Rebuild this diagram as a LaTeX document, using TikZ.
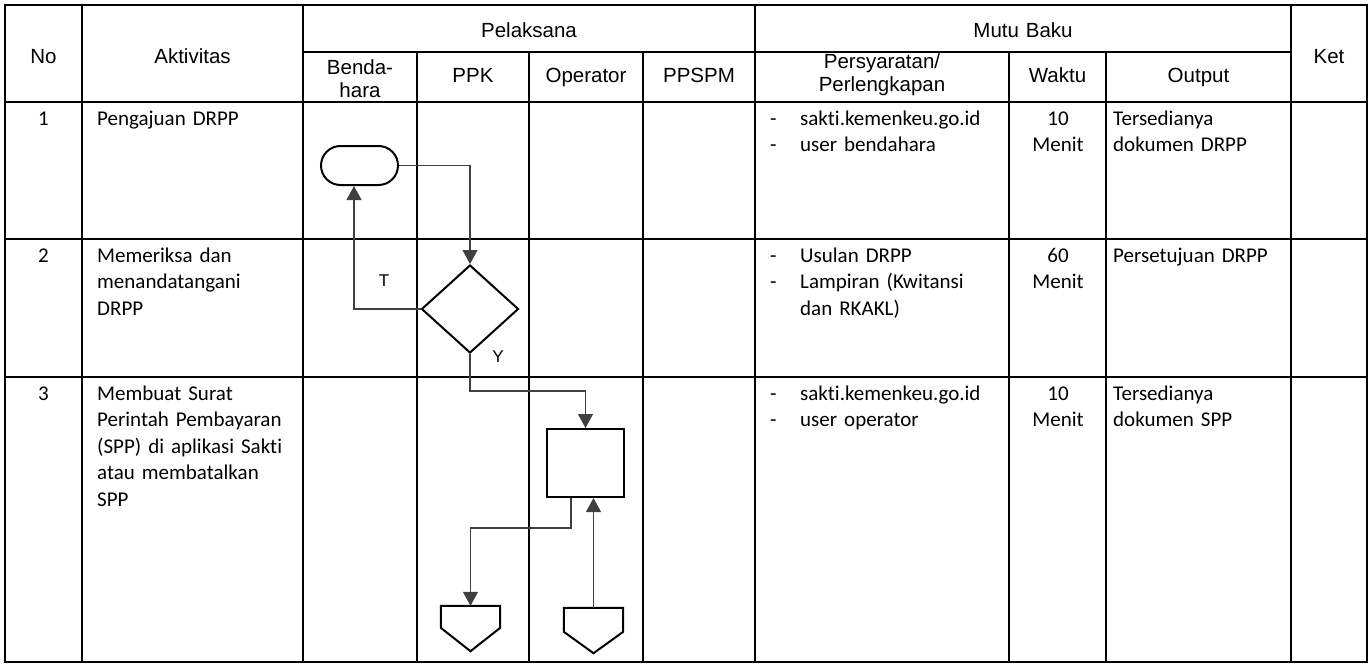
\documentclass[tikz,border=0pt]{standalone}
\usepackage{fontspec}
\setmainfont{Carlito}[Ligatures=NoCommon]
\newfontfamily\headfont{Liberation Sans}
\usetikzlibrary{arrows.meta, shapes.geometric}
\newcommand{\itemdash}{\makebox[30pt][l]{-}}

\begin{document}
\begin{tikzpicture}[
  x=1pt, y=-1pt,
  grid/.style={line width=2pt},
  hd/.style={font=\headfont\fontsize{20.5}{23}\selectfont, align=center,
             text width=150pt, inner sep=0pt, anchor=base},
  cell/.style={font=\fontsize{21}{26.5}\selectfont, align=left,
               text width=250pt, inner sep=0pt, anchor=base west},
  num/.style={font=\fontsize{21}{26.5}\selectfont, align=center,
              text width=80pt, inner sep=0pt, anchor=base},
  lbl/.style={font=\headfont\fontsize{17}{20}\selectfont, inner sep=0pt},
  fshape/.style={draw, line width=2pt, inner sep=0pt},
  flow/.style={draw=black!75, line width=1.2pt},
  >={Triangle[length=14pt, width=15pt]}
]
\useasboundingbox (0,0) rectangle (1370,664);
\draw[grid] (5,5) rectangle (1367,662);
\foreach \x in {82,303,755,1291} \draw[grid] (\x,5) -- (\x,662);
\foreach \x in {417,529,643,1009,1106} \draw[grid] (\x,52) -- (\x,662);
\draw[grid] (303,52) -- (1291,52);
\foreach \y in {102,239,377} \draw[grid] (5,\y) -- (1367,\y);

\node[hd] (hno) at (43.5,63) {No};
\node[hd] (hakt) at (192.5,63) {Aktivitas};
\node[hd] (hpel) at (529,37) {Pelaksana};
\node[hd] (hmutu) at (1023,37) {Mutu Baku};
\node[hd] (hket) at (1329,63) {Ket};
\node[hd] (hbend) at (360,74) {Benda-\\hara};
\node[hd] (hppk) at (473,82) {PPK};
\node[hd] (hopr) at (586,82) {Operator};
\node[hd] (hppspm) at (699,82) {PPSPM};
\node[hd] (hsyarat) at (882,68) {Persyaratan/\\Perlengkapan};
\node[hd] (hwaktu) at (1057.5,82) {Waktu};
\node[hd] (hout) at (1198.5,82) {Output};

\node[num] (n1) at (43.5,125) {1};
\node[cell] (a1) at (97,125) {Pengajuan DRPP};
\node[cell] (s1) at (770,125) {\itemdash sakti.kemenkeu.go.id\\\itemdash user bendahara};
\node[num] (w1) at (1058,125) {10\\Menit};
\node[cell] (o1) at (1113,125) {Tersedianya\\dokumen DRPP};

\node[num] (n2) at (43.5,262) {2};
\node[cell] (a2) at (97,262) {Memeriksa dan\\menandatangani\\DRPP};
\node[cell] (s2) at (770,262) {\itemdash Usulan DRPP\\\itemdash Lampiran (Kwitansi\\\hspace*{30pt}dan RKAKL)};
\node[num] (w2) at (1058,262) {60\\Menit};
\node[cell] (o2) at (1113,262) {Persetujuan DRPP};

\node[num] (n3) at (43.5,400) {3};
\node[cell] (a3) at (97,400) {Membuat Surat\\Perintah Pembayaran\\(SPP) di aplikasi Sakti\\atau membatalkan\\SPP};
\node[cell] (s3) at (770,400) {\itemdash sakti.kemenkeu.go.id\\\itemdash user operator};
\node[num] (w3) at (1058,400) {10\\Menit};
\node[cell] (o3) at (1113,400) {Tersedianya\\dokumen SPP};

\node[fshape, rounded corners=19.5pt, minimum width=77pt, minimum height=39pt] (start) at (359.5,165.5) {};
\node[fshape, diamond, minimum width=97pt, minimum height=88pt] (cek) at (470,309) {};
\node[fshape, minimum width=77pt, minimum height=68pt] (spp) at (585.5,463) {};
\node[inner sep=0pt, minimum width=59pt, minimum height=45pt] (off1) at (470.5,628.5) {};
\node[inner sep=0pt, minimum width=59pt, minimum height=45pt] (off2) at (593.5,630.5) {};
\draw[line width=2pt] (off1.north west) -- (off1.north east) -- ([yshift=-22pt]off1.north east)
  -- (off1.south) -- ([yshift=-22pt]off1.north west) -- cycle;
\draw[line width=2pt] (off2.north west) -- (off2.north east) -- ([yshift=-24pt]off2.north east)
  -- (off2.south) -- ([yshift=-24pt]off2.north west) -- cycle;

\draw[flow, ->] (start.east) -| (cek.north);
\draw[flow, ->] (cek.west) -| ([xshift=-5.5pt]start.south);
\draw[flow, ->] (cek.south) -- ++(0,37) -| (spp.north);
\draw[flow, ->] ([xshift=-14.5pt]spp.south) -- ++(0,30) -| (off1.north);
\draw[flow, ->] (off2.north) -- (off2.north |- spp.south);
\node[lbl] (tlbl) at (384,281) {T};
\node[lbl] (ylbl) at (498,357) {Y};
\end{tikzpicture}
\end{document}
